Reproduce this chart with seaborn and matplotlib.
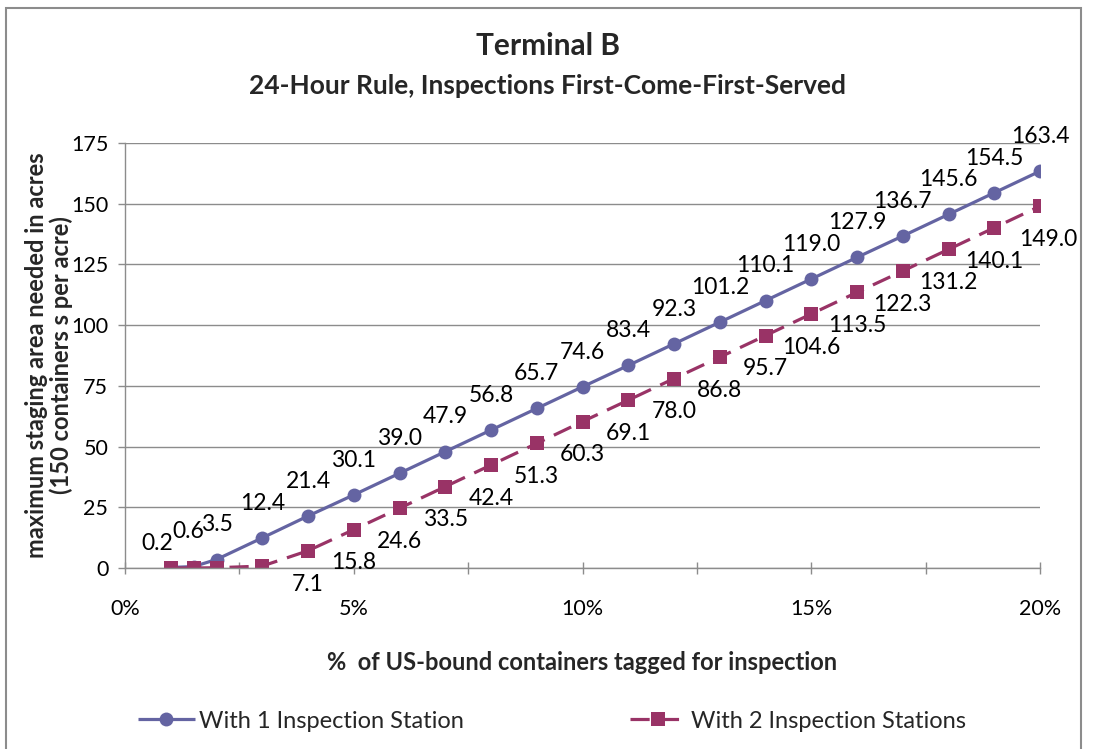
import matplotlib
matplotlib.use("Agg")
import matplotlib.pyplot as plt
import seaborn as sns
import pandas as pd
from matplotlib.patches import Rectangle

# data
pct_tagged = [1, 1.5, 2, 3, 4, 5, 6, 7, 8, 9, 10, 11, 12, 13, 14, 15, 16, 17, 18, 19, 20]
one_station = [0.2, 0.6, 3.5, 12.4, 21.4, 30.1, 39.0, 47.9, 56.8, 65.7, 74.6, 83.4,
               92.3, 101.2, 110.1, 119.0, 127.9, 136.7, 145.6, 154.5, 163.4]
two_stations = [0.0, 0.0, 0.1, 0.8, 7.1, 15.8, 24.6, 33.5, 42.4, 51.3, 60.3, 69.1,
                78.0, 86.8, 95.7, 104.6, 113.5, 122.3, 131.2, 140.1, 149.0]
# the first four labels of the second series are not shown in the original
two_label_from = 4

series_names = ["With 1 Inspection Station", "With 2 Inspection Stations"]
x_ticks = [0, 2.5, 5, 7.5, 10, 12.5, 15, 17.5, 20]
x_tick_labels = ["0%", "", "5%", "", "10%", "", "15%", "", "20%"]
y_ticks = [0, 25, 50, 75, 100, 125, 150, 175]

df = pd.DataFrame({
    "pct": pct_tagged * 2,
    "acres": one_station + two_stations,
    "series": [series_names[0]] * len(pct_tagged) + [series_names[1]] * len(pct_tagged),
})

sns.set_theme(style="white")
plt.rcParams["font.family"] = ["Lato", "DejaVu Sans"]

blue = "#6464a2"
maroon = "#993366"

fig = plt.figure(figsize=(10.95, 7.49), dpi=100)
ax = fig.add_axes([125 / 1095, 1 - 568 / 749, (1040 - 125) / 1095, (568 - 143) / 749])

sns.lineplot(data=df, x="pct", y="acres", hue="series", style="series",
             palette=[blue, maroon], markers=["o", "s"],
             dashes=[(1, 0), (6, 3.2)], linewidth=2.3, markersize=10,
             markeredgewidth=0, ax=ax, legend=True)

ax.set_xlim(0, 20)
ax.set_ylim(0, 175)
ax.set_xticks(x_ticks)
ax.set_xticklabels(x_tick_labels)
ax.set_yticks(y_ticks)
ax.grid(axis="y", color="#8c8c8c", linewidth=1)
ax.grid(axis="x", visible=False)
ax.set_axisbelow(True)
for side in ["top", "right"]:
    ax.spines[side].set_visible(False)
for side in ["left", "bottom"]:
    ax.spines[side].set_color("#8c8c8c")
    ax.spines[side].set_linewidth(1)
ax.tick_params(axis="x", direction="inout", length=8, width=1, color="#8c8c8c",
               pad=18, labelsize=15.5, bottom=True)
ax.tick_params(axis="y", direction="out", length=5, width=1, color="#8c8c8c",
               pad=7, labelsize=15.5, left=True)
for lab in ax.get_xticklabels() + ax.get_yticklabels():
    lab.set_color("#000000")

ax.set_xlabel("")
ax.set_ylabel("")
fig.text(582 / 1095, 1 - 663 / 749, "%  of US-bound containers tagged for inspection",
         ha="center", va="center", fontsize=17, fontweight="bold")
fig.text(49 / 1095, 1 - 355 / 749,
         "maximum staging area needed in acres\n(150 containers s per acre)",
         ha="center", va="center", rotation=90, fontsize=17, fontweight="bold",
         linespacing=1.05)

# data labels
for i, (x, y) in enumerate(zip(pct_tagged, one_station)):
    dx, dy = 0, 25
    if i == 0:
        dx, dy = -10, 17
    elif i == 1:
        dx = -4
    ax.annotate(f"{y:.1f}", (x, y), xytext=(dx, dy), textcoords="offset points",
                ha="center", va="center", fontsize=16.5, color="#000000")
for i, (x, y) in enumerate(zip(pct_tagged, two_stations)):
    if i < two_label_from:
        continue
    dx = 6 if i == len(pct_tagged) - 1 else 0
    ax.annotate(f"{y:.1f}", (x, y), xytext=(dx, -24), textcoords="offset points",
                ha="center", va="center", fontsize=16.5, color="#000000")

fig.text(0.5, 1 - 46 / 749, "Terminal B", ha="center", va="center",
         fontsize=21.5, fontweight="bold")
fig.text(0.5, 1 - 86 / 749, "24-Hour Rule, Inspections First-Come-First-Served",
         ha="center", va="center", fontsize=19, fontweight="bold")

handles, labels = ax.get_legend_handles_labels()
ax.get_legend().remove()
fig.legend(handles, labels, loc="center", bbox_to_anchor=(552 / 1095, 1 - 721 / 749),
           ncol=2, frameon=False, fontsize=17, handlelength=2.4, handletextpad=0.2,
           columnspacing=7)

fig.patches.append(Rectangle((5.5 / 1095, -0.05), (1081 - 5.5) / 1095, 1.05 - 8 / 749,
                             transform=fig.transFigure, fill=False,
                             edgecolor="#8c8c8c", linewidth=1.5))

fig.savefig("out.png", dpi=100)
